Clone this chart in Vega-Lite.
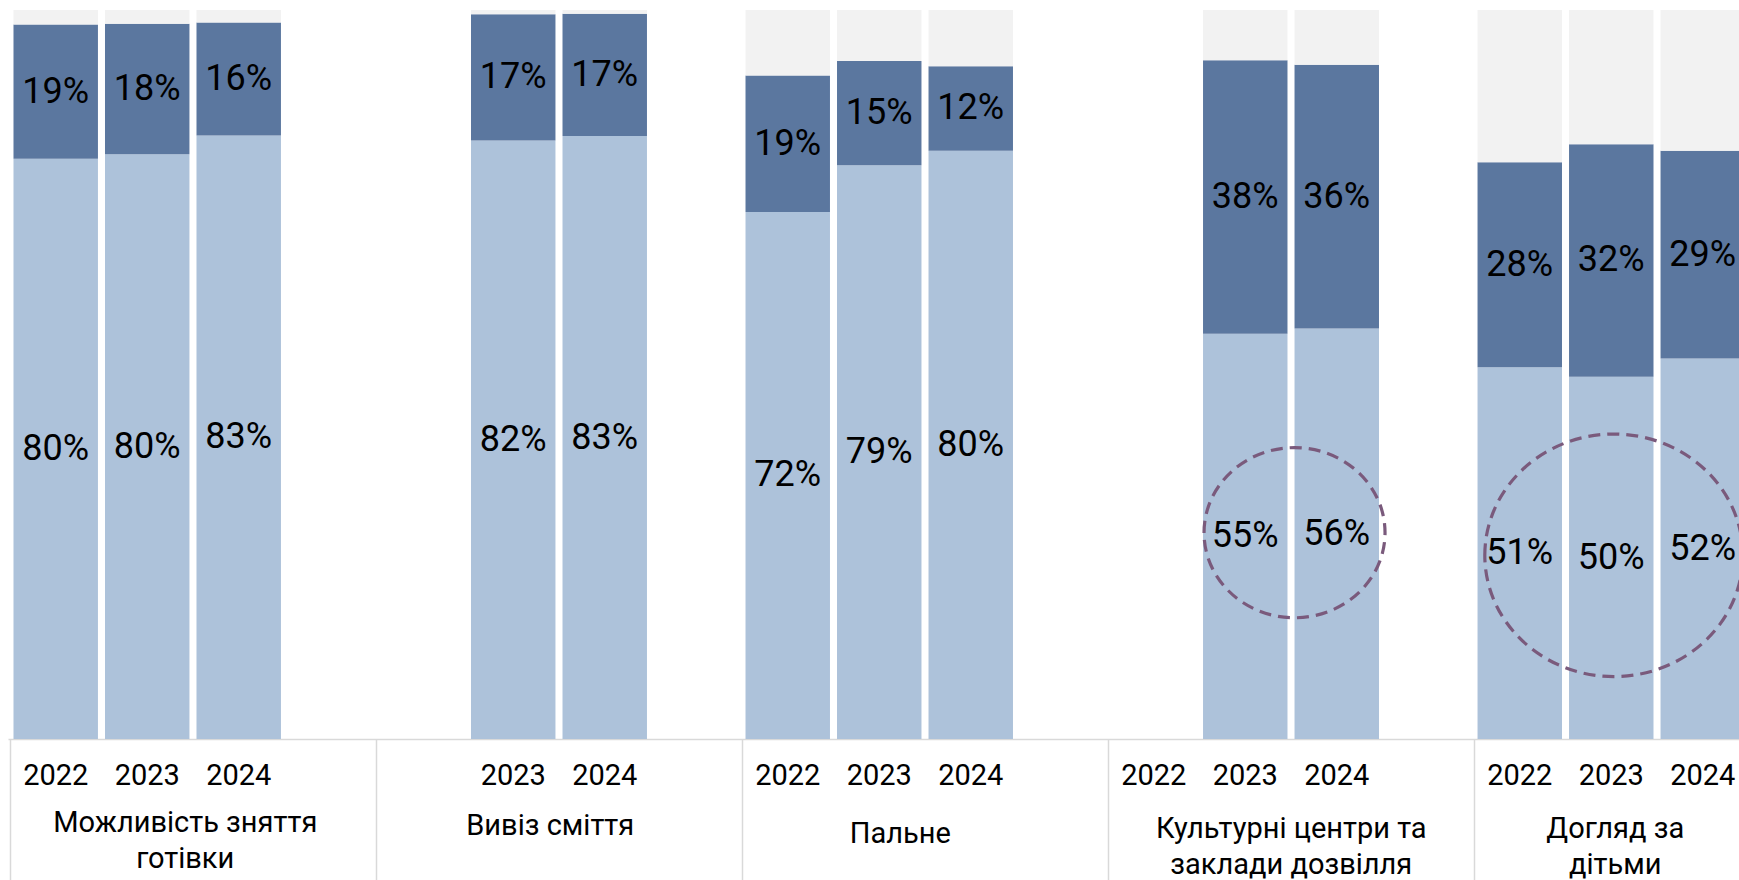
{
  "$schema": "https://vega.github.io/schema/vega-lite/v6.json",
  "width": 1731,
  "height": 729,
  "autosize": "none",
  "padding": {"left": 8, "top": 10, "right": 0, "bottom": 141},
  "background": "white",
  "config": {"view": {"stroke": null}, "font": "Roboto"},
  "datasets": {
    "bars": [
      {"group": "Можливість зняття готівки", "year": "2022", "slot": "1-2022", "level": "Доступно", "rank": 1, "value": 79.6, "label": "80%"},
      {"group": "Можливість зняття готівки", "year": "2022", "slot": "1-2022", "level": "Частково", "rank": 2, "value": 18.4, "label": "19%"},
      {"group": "Можливість зняття готівки", "year": "2022", "slot": "1-2022", "level": "Інше", "rank": 3, "value": 2.0, "label": ""},
      {"group": "Можливість зняття готівки", "year": "2023", "slot": "1-2023", "level": "Доступно", "rank": 1, "value": 80.2, "label": "80%"},
      {"group": "Можливість зняття готівки", "year": "2023", "slot": "1-2023", "level": "Частково", "rank": 2, "value": 17.9, "label": "18%"},
      {"group": "Можливість зняття готівки", "year": "2023", "slot": "1-2023", "level": "Інше", "rank": 3, "value": 1.9, "label": ""},
      {"group": "Можливість зняття готівки", "year": "2024", "slot": "1-2024", "level": "Доступно", "rank": 1, "value": 82.8, "label": "83%"},
      {"group": "Можливість зняття готівки", "year": "2024", "slot": "1-2024", "level": "Частково", "rank": 2, "value": 15.5, "label": "16%"},
      {"group": "Можливість зняття готівки", "year": "2024", "slot": "1-2024", "level": "Інше", "rank": 3, "value": 1.7, "label": ""},
      {"group": "Вивіз сміття", "year": "2023", "slot": "2-2023", "level": "Доступно", "rank": 1, "value": 82.1, "label": "82%"},
      {"group": "Вивіз сміття", "year": "2023", "slot": "2-2023", "level": "Частково", "rank": 2, "value": 17.3, "label": "17%"},
      {"group": "Вивіз сміття", "year": "2023", "slot": "2-2023", "level": "Інше", "rank": 3, "value": 0.6, "label": ""},
      {"group": "Вивіз сміття", "year": "2024", "slot": "2-2024", "level": "Доступно", "rank": 1, "value": 82.7, "label": "83%"},
      {"group": "Вивіз сміття", "year": "2024", "slot": "2-2024", "level": "Частково", "rank": 2, "value": 16.8, "label": "17%"},
      {"group": "Вивіз сміття", "year": "2024", "slot": "2-2024", "level": "Інше", "rank": 3, "value": 0.5, "label": ""},
      {"group": "Пальне", "year": "2022", "slot": "3-2022", "level": "Доступно", "rank": 1, "value": 72.3, "label": "72%"},
      {"group": "Пальне", "year": "2022", "slot": "3-2022", "level": "Частково", "rank": 2, "value": 18.7, "label": "19%"},
      {"group": "Пальне", "year": "2022", "slot": "3-2022", "level": "Інше", "rank": 3, "value": 9.0, "label": ""},
      {"group": "Пальне", "year": "2023", "slot": "3-2023", "level": "Доступно", "rank": 1, "value": 78.7, "label": "79%"},
      {"group": "Пальне", "year": "2023", "slot": "3-2023", "level": "Частково", "rank": 2, "value": 14.3, "label": "15%"},
      {"group": "Пальне", "year": "2023", "slot": "3-2023", "level": "Інше", "rank": 3, "value": 7.0, "label": ""},
      {"group": "Пальне", "year": "2024", "slot": "3-2024", "level": "Доступно", "rank": 1, "value": 80.7, "label": "80%"},
      {"group": "Пальне", "year": "2024", "slot": "3-2024", "level": "Частково", "rank": 2, "value": 11.6, "label": "12%"},
      {"group": "Пальне", "year": "2024", "slot": "3-2024", "level": "Інше", "rank": 3, "value": 7.7, "label": ""},
      {"group": "Культурні центри та заклади дозвілля", "year": "2023", "slot": "4-2023", "level": "Доступно", "rank": 1, "value": 55.6, "label": "55%"},
      {"group": "Культурні центри та заклади дозвілля", "year": "2023", "slot": "4-2023", "level": "Частково", "rank": 2, "value": 37.5, "label": "38%"},
      {"group": "Культурні центри та заклади дозвілля", "year": "2023", "slot": "4-2023", "level": "Інше", "rank": 3, "value": 6.9, "label": ""},
      {"group": "Культурні центри та заклади дозвілля", "year": "2024", "slot": "4-2024", "level": "Доступно", "rank": 1, "value": 56.3, "label": "56%"},
      {"group": "Культурні центри та заклади дозвілля", "year": "2024", "slot": "4-2024", "level": "Частково", "rank": 2, "value": 36.2, "label": "36%"},
      {"group": "Культурні центри та заклади дозвілля", "year": "2024", "slot": "4-2024", "level": "Інше", "rank": 3, "value": 7.5, "label": ""},
      {"group": "Догляд за дітьми", "year": "2022", "slot": "5-2022", "level": "Доступно", "rank": 1, "value": 51.0, "label": "51%"},
      {"group": "Догляд за дітьми", "year": "2022", "slot": "5-2022", "level": "Частково", "rank": 2, "value": 28.1, "label": "28%"},
      {"group": "Догляд за дітьми", "year": "2022", "slot": "5-2022", "level": "Інше", "rank": 3, "value": 20.9, "label": ""},
      {"group": "Догляд за дітьми", "year": "2023", "slot": "5-2023", "level": "Доступно", "rank": 1, "value": 49.7, "label": "50%"},
      {"group": "Догляд за дітьми", "year": "2023", "slot": "5-2023", "level": "Частково", "rank": 2, "value": 31.9, "label": "32%"},
      {"group": "Догляд за дітьми", "year": "2023", "slot": "5-2023", "level": "Інше", "rank": 3, "value": 18.4, "label": ""},
      {"group": "Догляд за дітьми", "year": "2024", "slot": "5-2024", "level": "Доступно", "rank": 1, "value": 52.2, "label": "52%"},
      {"group": "Догляд за дітьми", "year": "2024", "slot": "5-2024", "level": "Частково", "rank": 2, "value": 28.5, "label": "29%"},
      {"group": "Догляд за дітьми", "year": "2024", "slot": "5-2024", "level": "Інше", "rank": 3, "value": 19.3, "label": ""}
    ],
    "rings": [
      {"group": "Культурні центри та заклади дозвілля", "slot": "4-2024", "value": 28.3},
      {"group": "Догляд за дітьми", "slot": "5-2023", "value": 25.2}
    ]
  },
  "layer": [
    {
      "data": {"name": "bars"},
      "mark": {"type": "bar"},
      "encoding": {
        "x": {
          "field": "slot", "type": "nominal",
          "scale": {
            "domain": ["1-2022", "1-2023", "1-2024", "1-x", "2-2022", "2-2023", "2-2024", "2-x", "3-2022", "3-2023", "3-2024", "3-x", "4-2022", "4-2023", "4-2024", "4-x", "5-2022", "5-2023", "5-2024"],
            "range": [0, 1737],
            "paddingInner": 0.077, "paddingOuter": 0.03, "align": 1
          },
          "axis": {
            "orient": "bottom", "title": null,
            "values": ["1-2022", "1-2023", "1-2024", "2-2023", "2-2024", "3-2022", "3-2023", "3-2024", "4-2022", "4-2023", "4-2024", "5-2022", "5-2023", "5-2024"],
            "labelExpr": "substring(datum.value, 2)",
            "labelAngle": 0, "labelFont": "Roboto", "labelFontSize": 29, "labelColor": "#000000",
            "labelPadding": 22, "labelOverlap": false, "labelBound": false, "labelFlush": false,
            "ticks": false, "grid": false, "domain": true, "domainColor": "#d9d9d9", "domainWidth": 1.5
          }
        },
        "y": {"field": "value", "type": "quantitative", "stack": "zero", "scale": {"domain": [0, 100], "nice": false}, "axis": null},
        "color": {
          "field": "level", "type": "nominal",
          "scale": {"domain": ["Доступно", "Частково", "Інше"], "range": ["#adc2da", "#5b779f", "#f2f2f2"]},
          "legend": null
        },
        "order": {"field": "rank", "type": "quantitative"}
      }
    },
    {
      "data": {"name": "rings"},
      "transform": [{"filter": "datum.slot == '4-2024'"}],
      "mark": {
        "type": "point", "filled": false, "opacity": 1,
        "shape": "M -1 0 C -1 -0.519 -0.552 -0.94 0 -0.94 C 0.552 -0.94 1 -0.519 1 0 C 1 0.519 0.552 0.94 0 0.94 C -0.552 0.94 -1 0.519 -1 0 Z",
        "size": 32761, "stroke": "#7a5a7c", "strokeWidth": 3.2, "strokeDash": [12, 7]
      },
      "encoding": {
        "x": {
          "field": "slot", "type": "nominal", "bandPosition": 0,
          "axis": {
            "orient": "bottom", "title": null,
            "values": ["1-2022", "2-2022", "3-2022", "4-2022", "5-2022"],
            "bandPosition": -0.04,
            "labels": false, "domain": false, "grid": false,
            "ticks": true, "tickSize": 141, "tickColor": "#d9d9d9", "tickWidth": 1.5
          }
        },
        "y": {"field": "value", "type": "quantitative", "axis": null}
      }
    },
    {
      "data": {"name": "rings"},
      "transform": [{"filter": "datum.slot == '5-2023'"}],
      "mark": {
        "type": "point", "filled": false, "opacity": 1,
        "shape": "M -1 0 C -1 -0.519 -0.552 -0.94 0 -0.94 C 0.552 -0.94 1 -0.519 1 0 C 1 0.519 0.552 0.94 0 0.94 C -0.552 0.94 -1 0.519 -1 0 Z",
        "size": 66564, "stroke": "#7a5a7c", "strokeWidth": 3.2, "strokeDash": [12, 7]
      },
      "encoding": {
        "x": {"field": "slot", "type": "nominal", "bandPosition": 0.53, "axis": null},
        "y": {"field": "value", "type": "quantitative", "axis": null}
      }
    },
    {
      "data": {"name": "bars"},
      "transform": [{"filter": "datum.label != ''"}],
      "mark": {"type": "text", "font": "Roboto", "fontSize": 36, "color": "#000000", "baseline": "middle", "align": "center"},
      "encoding": {
        "x": {
          "field": "slot", "type": "nominal",
          "axis": {
            "orient": "bottom", "title": null,
            "values": ["1-2023", "2-2023", "3-2023", "4-2023", "5-2023"],
            "labelExpr": "datum.value == '1-2023' ? ['Можливість зняття', 'готівки'] : datum.value == '2-2023' ? 'Вивіз сміття' : datum.value == '3-2023' ? 'Пальне' : datum.value == '4-2023' ? ['Культурні центри та', 'заклади дозвілля'] : ['Догляд за', 'дітьми']",
            "labelOffset": {"condition": [{"test": "datum.value == '1-2023'", "value": 38}, {"test": "datum.value == '2-2023'", "value": 37}, {"test": "datum.value == '3-2023'", "value": 21}, {"test": "datum.value == '4-2023'", "value": 46}], "value": 4},
            "labelPadding": {"condition": [{"test": "datum.value == '1-2023'", "value": 69}, {"test": "datum.value == '2-2023'", "value": 72}, {"test": "datum.value == '3-2023'", "value": 80}], "value": 75},
            "labelAngle": 0, "labelFont": "Roboto", "labelFontSize": 29, "labelColor": "#000000",
            "labelLineHeight": 36, "labelLimit": 500,
            "labelOverlap": false, "labelBound": false, "labelFlush": false,
            "ticks": false, "grid": false, "domain": false
          }
        },
        "y": {"field": "value", "type": "quantitative", "stack": "zero", "bandPosition": 0.5, "axis": null},
        "detail": {"field": "level", "type": "nominal"},
        "order": {"field": "rank", "type": "quantitative"},
        "text": {"field": "label", "type": "nominal"}
      }
    }
  ],
  "resolve": {"axis": {"x": "independent"}}
}
